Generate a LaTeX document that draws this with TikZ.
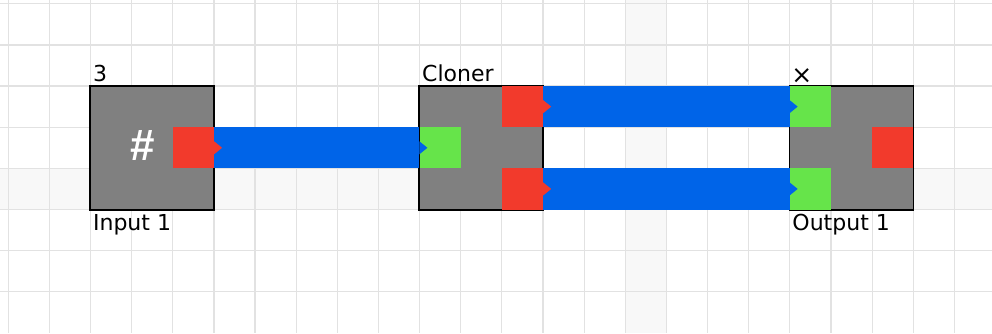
\documentclass[tikz,border=0pt]{standalone}
\usepackage{fontspec}
\setmainfont{DejaVu Sans}
\newfontfamily\hashfont{Liberation Sans}
\definecolor{portred}{RGB}{242,58,44}
\definecolor{portgreen}{RGB}{102,228,74}
\definecolor{wireblue}{RGB}{0,100,232}
\definecolor{blockgray}{RGB}{128,128,128}
\definecolor{gridgray}{RGB}{226,226,226}
\definecolor{bandgray}{RGB}{248,248,248}
\tikzset{
  gridline/.style={draw=gridgray, line width=1.2pt},
  band/.style={fill=bandgray},
  blockbox/.style={rectangle, fill=blockgray, draw=black, line width=1.2pt, minimum size=123.42pt, inner sep=0pt},
  blockedge/.style={draw=black, line width=1.2pt},
  outport/.style={rectangle, fill=portred, minimum size=41.14pt, inner sep=0pt},
  inport/.style={rectangle, fill=portgreen, minimum size=41.14pt, inner sep=0pt},
  wire/.style={draw=wireblue, line width=41.14pt},
  lbl/.style={font=\fontsize{22}{26}\selectfont, inner sep=0pt, text=black},
}
\newcommand\wireconnect[2]{%
  \draw[wire] (#1.east) -- (#2.west);
  \fill[wireblue] ([yshift=6.5pt]#2.west) -- ([xshift=8pt]#2.west) -- ([yshift=-6.5pt]#2.west) -- cycle;
  \fill[portred] ([yshift=6.5pt]#1.east) -- ([xshift=8pt]#1.east) -- ([yshift=-6.5pt]#1.east) -- cycle;}
\begin{document}
\begin{tikzpicture}[x=41.14pt, y=-41.14pt]
\useasboundingbox ([shift={(-8.2pt,3.8pt)}]0,0) rectangle ++(992pt,-333pt);
% background bands
\fill[band] (-0.2,4) rectangle (23.92,5);
\fill[band] (15,-0.1) rectangle (16,8.01);
% grid
\foreach \i in {0,...,23} \draw[gridline] (\i,-0.1) -- (\i,8.01);
\foreach \j in {0,...,7} \draw[gridline] (-0.2,\j) -- (23.92,\j);
% blocks
\node[blockbox] (inbox) at (3.5,3.5) {};
\node[blockbox] (clbox) at (11.5,3.5) {};
\node[blockbox] (outbox) at (20.5,3.5) {};
% ports
\node[outport] (inout) at (4.5,3.5) {};
\node[inport] (clin) at (10.5,3.5) {};
\node[outport] (clout1) at (12.5,2.5) {};
\node[outport] (clout2) at (12.5,4.5) {};
\node[inport] (outin1) at (19.5,2.5) {};
\node[inport] (outin2) at (19.5,4.5) {};
\node[outport] (outout) at (21.5,3.5) {};
% block borders on top of ports
\draw[blockedge] (inbox.north west) rectangle (inbox.south east);
\draw[blockedge] (clbox.north west) rectangle (clbox.south east);
\draw[blockedge] (outbox.north west) rectangle (outbox.south east);
% hash symbol
\node[font=\hashfont\bfseries\fontsize{44}{44}\selectfont, text=white, inner sep=0pt] (hash) at (3.277,3.456) {\#};
% connectors
\wireconnect{inout}{clin}
\wireconnect{clout1}{outin1}
\wireconnect{clout2}{outin2}
% labels
\node[lbl, anchor=base west] (inval) at ([shift={(3pt,4pt)}]inbox.north west) {3};
\node[lbl, anchor=base west] (inname) at ([shift={(3pt,-20.5pt)}]inbox.south west) {Input 1};
\node[lbl, anchor=base west] (clname) at ([shift={(3pt,4pt)}]clbox.north west) {Cloner};
\node[lbl, font=\fontsize{25}{30}\selectfont, anchor=base west] (outval) at ([shift={(2pt,2pt)}]outbox.north west) {×};
\node[lbl, anchor=base west] (outname) at ([shift={(3pt,-20.5pt)}]outbox.south west) {Output 1};
\end{tikzpicture}
\end{document}
